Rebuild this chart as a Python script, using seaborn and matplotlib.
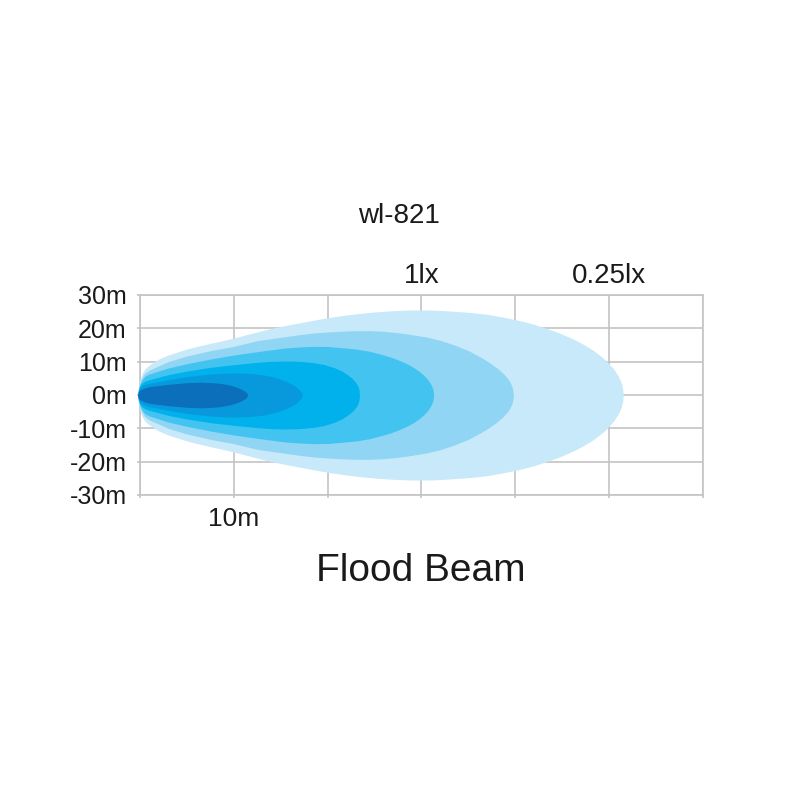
import matplotlib
matplotlib.use("Agg")
import matplotlib.pyplot as plt
import seaborn as sns
import numpy as np

# ---- data ----
# upper half-width (m) of each isolux contour versus distance (m); contours are symmetric
beam1_dist = [-0.25, -0.15, 0, 0.2, 0.5, 1, 2, 3, 4, 5, 6, 7.5, 8.5, 10, 11.5, 13, 14.5, 16, 17.5, 19,
              20.5, 22, 23.5, 25, 27, 29, 31, 33, 35, 37, 39, 40.5, 42, 43.3, 44.5, 45.6, 46.6, 47.5,
              48.3, 49, 49.6, 50.1, 50.5, 50.9, 51.2, 51.35, 51.45, 51.5]
beam1_half = [0, 2.5, 4.5, 6.3, 7.8, 9, 10.8, 12, 12.9, 13.8, 14.5, 15.5, 16.1, 17.1, 18.2, 19.3, 20.3, 21.1,
              21.9, 22.7, 23.4, 24, 24.5, 24.9, 25.3, 25.5, 25.5, 25.2, 24.8, 24.2, 23.2, 22.3, 21.2, 20,
              18.8, 17.5, 16.2, 14.8, 13.4, 11.9, 10.5, 9.0, 7.7, 6.0, 4.3, 3.0, 1.7, 0]

beam2_dist = [-0.25, -0.15, 0, 0.2, 0.5, 1, 3, 5, 7.5, 10, 12.5, 15.5, 17, 18.5, 20, 21.5, 23, 24.5,
              26, 27.5, 29, 30.5, 32, 33.5, 35, 36.2, 37.2, 38, 38.7, 39.2, 39.5, 39.7, 39.8]
beam2_half = [0, 2.2, 3.8, 5.2, 6.5, 7.5, 10, 11.7, 13.3, 14.6, 16.3, 17.5, 18.1, 18.6, 18.9, 19.15, 19.3, 19.3,
              19.1, 18.7, 18.1, 17.4, 16.4, 15.0, 13.3, 11.5, 9.8, 8.2, 6.5, 4.9, 3.5, 2.1, 0]

beam3_dist = [-0.25, -0.15, 0, 0.2, 0.5, 1, 3, 5, 7.5, 10, 12.5, 15.5, 17, 18.5, 20, 21.5, 23, 24.5,
              25.7, 26.8, 27.7, 28.5, 29.2, 29.8, 30.3, 30.7, 31.0, 31.2, 31.3]
beam3_half = [0, 2, 3.3, 4.5, 5.6, 6.3, 8.1, 9.4, 10.8, 12, 13, 14.1, 14.4, 14.6, 14.55, 14.2, 13.8, 13.1,
              12.2, 11.3, 10.3, 9.3, 8.2, 7.0, 5.8, 4.5, 3.2, 1.9, 0]

beam4_dist = [-0.25, -0.15, 0, 0.2, 0.5, 1, 3, 5, 7.5, 10, 12.5, 14, 15.5, 17, 18.5, 19.7, 20.7, 21.5,
              22.1, 22.6, 22.95, 23.2, 23.33, 23.4]
beam4_half = [0, 1.7, 2.8, 3.5, 4.1, 4.6, 6.1, 7.2, 8.3, 9.1, 9.8, 10.1, 10.2, 10.1, 9.7, 9.1, 8.2, 7.2,
              6.1, 5, 3.9, 2.8, 1.7, 0]

beam5_dist = [-0.25, -0.15, 0, 0.2, 0.5, 1, 3, 5, 7.5, 9, 10.5, 12, 13.2, 14.2, 15, 15.7, 16.3, 16.7,
              17, 17.2, 17.3]
beam5_half = [0, 1.4, 2.2, 2.7, 3.1, 3.5, 4.6, 5.5, 6.3, 6.55, 6.6, 6.4, 6.0, 5.4, 4.7, 3.9, 3.1, 2.3,
              1.5, 0.8, 0]

beam6_dist = [-0.25, -0.15, 0, 0.5, 1, 3, 5, 6.6, 8, 8.9, 9.6, 10.2, 10.7, 11.1, 11.35, 11.5]
beam6_half = [0, 1, 1.5, 2.1, 2.5, 3.2, 3.7, 3.85, 3.65, 3.35, 2.95, 2.45, 1.9, 1.3, 0.7, 0]

beam_colors = ["#c7e9f9", "#91d5f4", "#43c4f0", "#00b1ec", "#0899dc", "#0b6fbc"]

x_ticks = [0, 10, 20, 30, 40, 50, 60]
x_tick_labels = ["", "10m", "", "", "", "", ""]
y_ticks = [30, 20, 10, 0, -10, -20, -30]
y_tick_labels = ["30m", "20m", "10m", "0m", "-10m", "-20m", "-30m"]
top_ticks = [30, 50]
top_tick_labels = ["1lx", "0.25lx"]
title_text = "wl-821"
caption_text = "Flood Beam"

# ---- style ----
sns.set_theme(style="white")
plt.rcParams["font.family"] = ["Liberation Sans", "DejaVu Sans"]

grid_col = "#c4c4c4"
text_col = "#1a1a1a"

fig = plt.figure(figsize=(8, 8), dpi=100)
fig.patch.set_facecolor("white")
ax = fig.add_axes([0.175, 0.38125, 0.70375, 0.25])

palette = sns.color_palette(beam_colors)
beams = [(beam1_dist, beam1_half), (beam2_dist, beam2_half), (beam3_dist, beam3_half),
         (beam4_dist, beam4_half), (beam5_dist, beam5_half), (beam6_dist, beam6_half)]
for i, ((xd, hw), col) in enumerate(zip(beams, palette)):
    xd = np.asarray(xd, float)
    hw = np.asarray(hw, float)
    ax.fill_between(xd, -hw, hw, color=col, linewidth=0, zorder=3 + i, clip_on=False,
                    antialiased=True)

ax.set_xlim(0, 60)
ax.set_ylim(-30, 30)
ax.set_xticks(x_ticks)
ax.set_xticklabels(x_tick_labels)
ax.set_yticks(y_ticks)
ax.set_yticklabels(y_tick_labels)
ax.set_axisbelow(True)
ax.grid(True, color=grid_col, linewidth=1.2, zorder=0)
for s in ax.spines.values():
    s.set_color(grid_col)
    s.set_linewidth(1.2)
    s.set_zorder(1)
ax.tick_params(axis="both", which="both", colors=grid_col, length=2.5, width=1.2,
               direction="out", labelcolor=text_col)
ax.tick_params(axis="y", labelsize=18, pad=7, left=True)
ax.tick_params(axis="x", labelsize=19, pad=6, bottom=True)

sec = ax.secondary_xaxis("top")
sec.set_xticks(top_ticks)
sec.set_xticklabels(top_tick_labels)
sec.tick_params(length=0, labelsize=20, pad=4, labelcolor=text_col)
sec.spines["top"].set_visible(False)

fig.text(399 / 800, 1 - 223 / 800, title_text, ha="center", va="baseline", fontsize=20, color=text_col)
fig.text(421 / 800, 1 - 581 / 800, caption_text, ha="center", va="baseline", fontsize=28, color=text_col)

fig.savefig("out.png", dpi=100, facecolor="white")
